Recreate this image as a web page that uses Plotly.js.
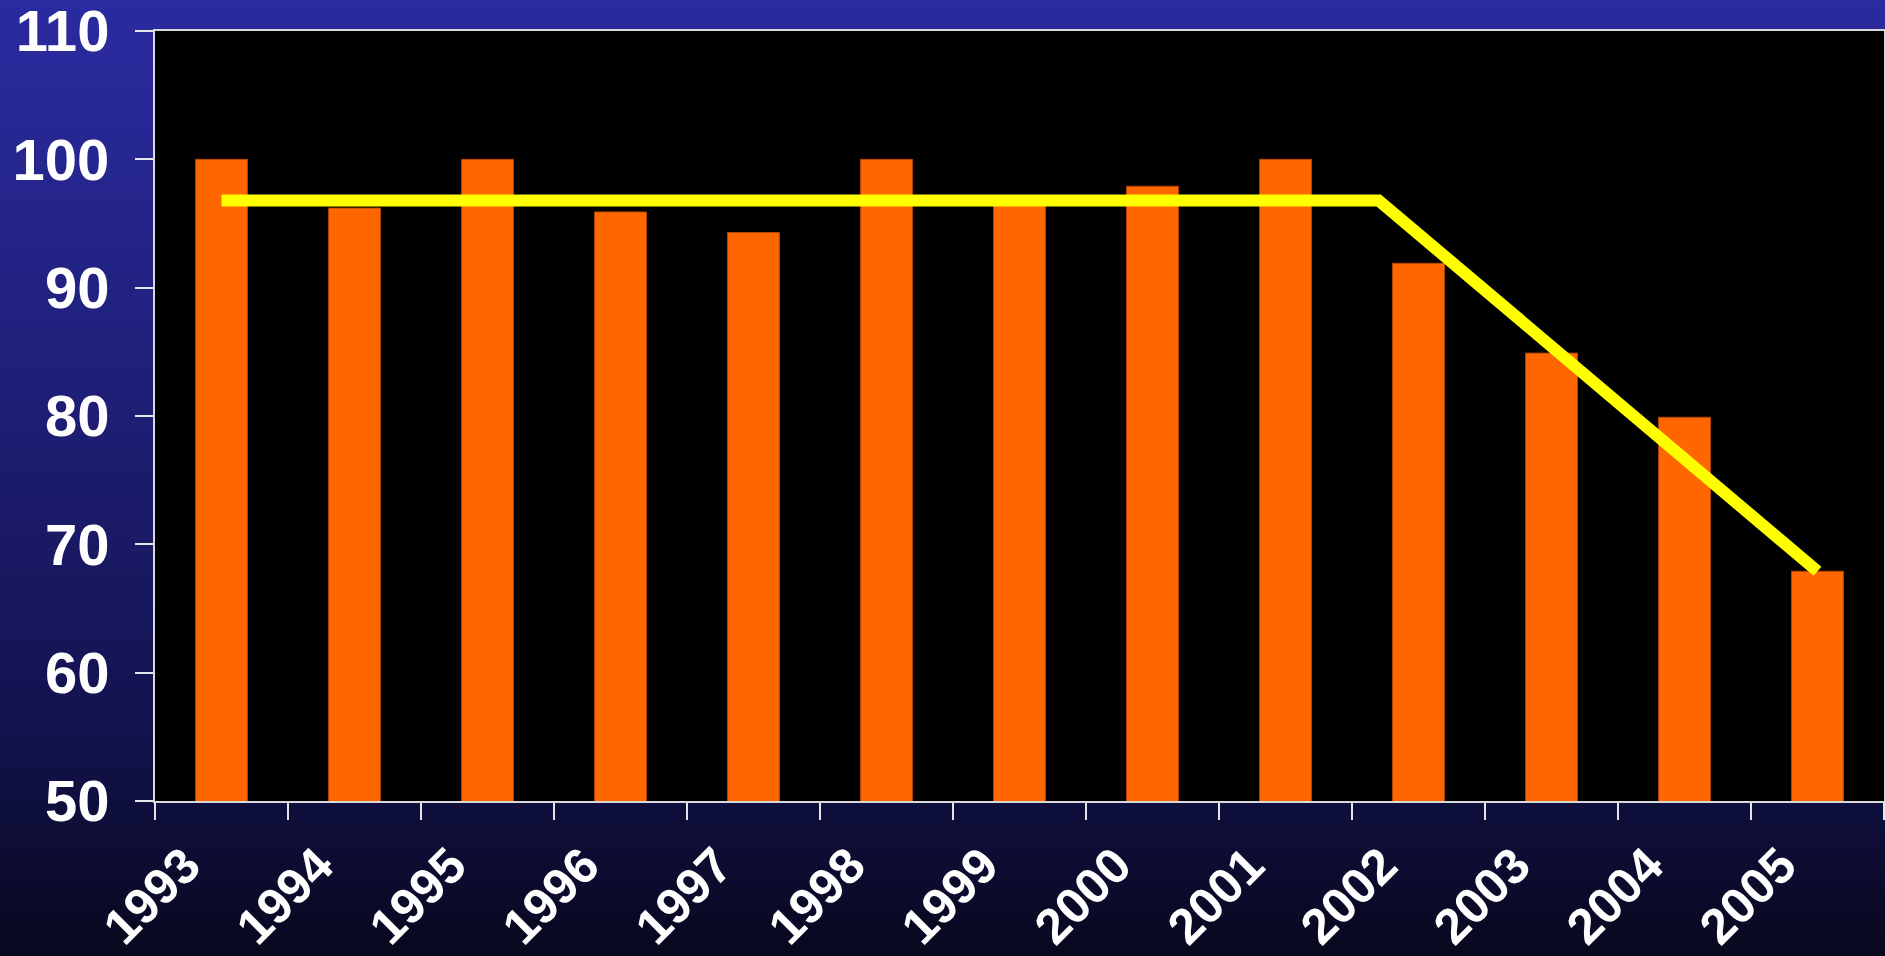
<!DOCTYPE html>
<html>
<head>
<meta charset="utf-8">
<script src="https://cdn.plot.ly/plotly-3.0.1.min.js"></script>
<style>
  html, body { margin: 0; padding: 0; width: 1885px; height: 956px; overflow: hidden;
    background: linear-gradient(to bottom, #2b2ba1 0%, #1f1f78 40%, #131350 75%, #08081e 100%); }
  #chart { width: 1885px; height: 956px; }
</style>
</head>
<body>
<div id="chart"></div>
<script>
// Data
const years = [1993, 1994, 1995, 1996, 1997, 1998, 1999, 2000, 2001, 2002, 2003, 2004, 2005];
const yearLabels = ["1993", "1994", "1995", "1996", "1997", "1998", "1999", "2000", "2001", "2002", "2003", "2004", "2005"];
const values = [100, 96.2, 100, 95.9, 94.3, 100, 97, 97.9, 100, 91.9, 84.9, 79.9, 67.9];
// Trend line (flat, then declining)
const trendX = [1993, 2001.7, 2005];
const trendY = [96.8, 96.8, 67.9];
const yTicks = [50, 60, 70, 80, 90, 100, 110];

const fontFamily = '"Liberation Sans", Arial, Helvetica, sans-serif';

const traces = [
  {
    type: 'bar',
    x: years,
    y: values,
    marker: { color: '#ff6600', line: { color: '#b34700', width: 1 } },
    hoverinfo: 'x+y'
  },
  {
    type: 'scatter',
    mode: 'lines',
    x: trendX,
    y: trendY,
    line: { color: '#ffff00', width: 12 },
    hoverinfo: 'skip'
  }
];

const layout = {
  width: 1885,
  height: 956,
  margin: { l: 155, r: 1, t: 31, b: 155, pad: 0 },
  paper_bgcolor: 'rgba(0,0,0,0)',
  plot_bgcolor: '#000000',
  showlegend: false,
  bargap: 0.61,
  font: { family: fontFamily, color: '#ffffff', weight: 700 },
  xaxis: {
    type: 'linear',
    range: [1992.5, 2005.5],
    tickmode: 'array',
    tickvals: years,
    ticktext: yearLabels,
    tickangle: -45,
    ticks: 'outside',
    ticklen: 1,
    tickcolor: 'rgba(0,0,0,0)',
    ticklabelshift: -36,
    ticklabelstandoff: 12,
    ticklabeloverflow: 'allow',
    tickfont: { family: fontFamily, size: 50, color: '#ffffff', weight: 700 },
    minor: { ticks: 'outside', tick0: 1992.5, dtick: 1, ticklen: 17, tickwidth: 2, tickcolor: '#e6e6e6', showgrid: false },
    showgrid: false,
    zeroline: false,
    showline: true,
    mirror: true,
    linecolor: '#d9d9d9',
    linewidth: 2,
    fixedrange: true
  },
  yaxis: {
    range: [50, 110],
    tickmode: 'array',
    tickvals: yTicks,
    ticktext: yTicks.map(String),
    ticks: 'outside',
    ticklen: 18,
    tickwidth: 2,
    tickcolor: '#e6e6e6',
    ticklabelstandoff: 14,
    ticklabeloverflow: 'allow',
    tickfont: { family: fontFamily, size: 58, color: '#ffffff', weight: 700 },
    showgrid: false,
    zeroline: false,
    showline: true,
    mirror: true,
    linecolor: '#d9d9d9',
    linewidth: 2,
    fixedrange: true
  }
};

Plotly.newPlot('chart', traces, layout, { displayModeBar: false, staticPlot: true });
</script>
</body>
</html>
